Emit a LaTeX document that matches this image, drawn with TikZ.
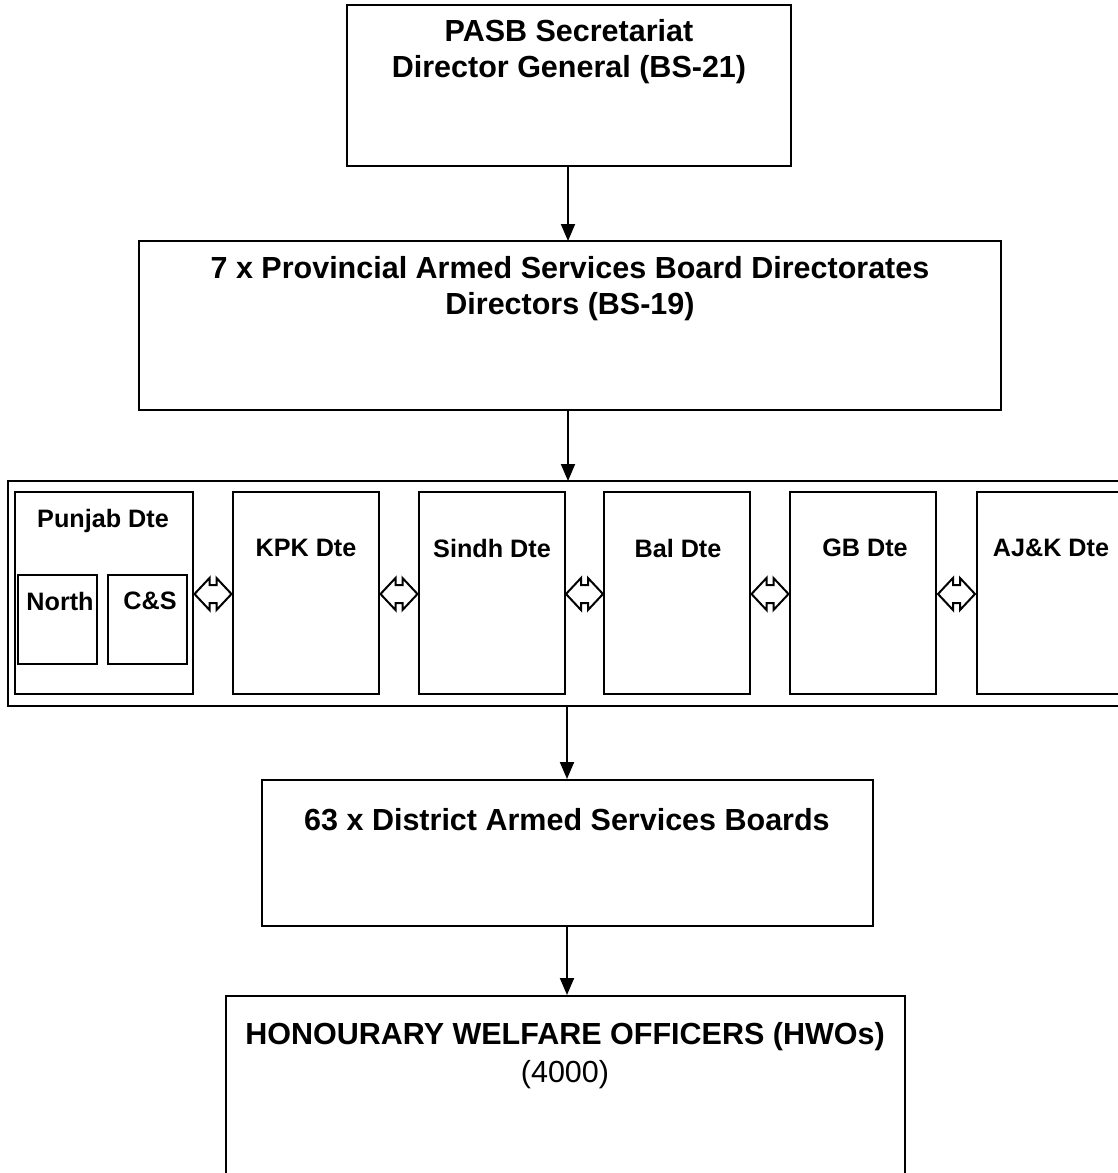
\documentclass[tikz,border=0pt]{standalone}
\usepackage{fontspec}
\setmainfont{Liberation Sans}
\usetikzlibrary{arrows.meta,calc}
\begin{document}
\begin{tikzpicture}[x=1pt,y=-1pt,
  box/.style={draw=black,line width=2pt,inner sep=0pt,fill=none},
  lbl/.style={inner sep=0pt,align=center,font=\bfseries\fontsize{30.5}{36}\selectfont},
  sub/.style={inner sep=0pt,font=\bfseries\fontsize{25.2}{28}\selectfont},
  conn/.style={line width=2pt,-{Triangle[length=17pt,width=14pt]}},
  dblarrow/.pic={\draw[line width=2pt,fill=white,line join=miter]
     (-18.5,0) -- (-3.5,-16) -- (-3.5,-9) -- (3.5,-9) -- (3.5,-16) -- (18.5,0)
     -- (3.5,16) -- (3.5,9) -- (-3.5,9) -- (-3.5,16) -- cycle;}]
\useasboundingbox (0,0) rectangle (1118,1173);
% boxes
\node[box,minimum width=444pt,minimum height=161pt] (top) at (569,85.5) {};
\node[box,minimum width=862pt,minimum height=169pt] (prov) at (570,325.5) {};
\node[box,minimum width=1120pt,minimum height=225pt] (outer) at (568,593.5) {};
\node[box,minimum width=178pt,minimum height=202pt] (punjab) at (104,593) {};
\node[box,minimum width=79pt,minimum height=89pt] (north) at (57.5,619.5) {};
\node[box,minimum width=79pt,minimum height=89pt] (cs) at (147.5,619.5) {};
\node[box,minimum width=146pt,minimum height=202pt] (kpk) at (306,593) {};
\node[box,minimum width=146pt,minimum height=202pt] (sindh) at (492,593) {};
\node[box,minimum width=146pt,minimum height=202pt] (bal) at (677,593) {};
\node[box,minimum width=146pt,minimum height=202pt] (gb) at (863,593) {};
\node[box,minimum width=160pt,minimum height=202pt] (ajk) at (1057,593) {};
\node[box,minimum width=611pt,minimum height=146pt] (dasb) at (567.5,853) {};
\node[box,minimum width=679pt,minimum height=200pt] (hwo) at (565.5,1096) {};
% texts
\node[lbl] (t1) at (569,52) {PASB Secretariat\\Director General (BS-21)};
\node[lbl] (t2) at (570,288.5) {7 x Provincial Armed Services Board Directorates\\Directors (BS-19)};
\node[sub] (t3) at (103,521) {Punjab Dte};
\node[sub] (t4) at (60,601) {North};
\node[sub] (t5) at (150,601) {C\&S};
\node[sub] (t6) at (306,548) {KPK Dte};
\node[sub] (t7) at (492,548) {Sindh Dte};
\node[sub] (t8) at (678,548) {Bal Dte};
\node[sub] (t9) at (865,548) {GB Dte};
\node[sub] (t10) at (1051,548) {AJ\&K Dte};
\node[lbl] (t11) at (567,820) {63 x District Armed Services Boards};
\node[lbl,font=\fontsize{30.5}{38}\selectfont] (t12) at (565,1056) {\textbf{HONOURARY WELFARE OFFICERS (HWOs)}\\(4000)};
% connectors
\draw[conn] (568,166) -- (568,241);
\draw[conn] ($(prov.south)+(-2,0)$) -- (568,481);
\draw[conn] (567,706) -- (dasb.north -| 567,0);
\draw[conn] (567,926) -- (hwo.north -| 567,0);
% double arrows
\pic at ($(punjab.east)!0.5!(kpk.west)+(0,1)$) {dblarrow};
\pic at ($(kpk.east)!0.5!(sindh.west)+(0,1)$) {dblarrow};
\pic at ($(sindh.east)!0.5!(bal.west)+(0,1)$) {dblarrow};
\pic at ($(bal.east)!0.5!(gb.west)+(0,1)$) {dblarrow};
\pic at ($(gb.east)!0.5!(ajk.west)+(0,1)$) {dblarrow};
\end{tikzpicture}
\end{document}
